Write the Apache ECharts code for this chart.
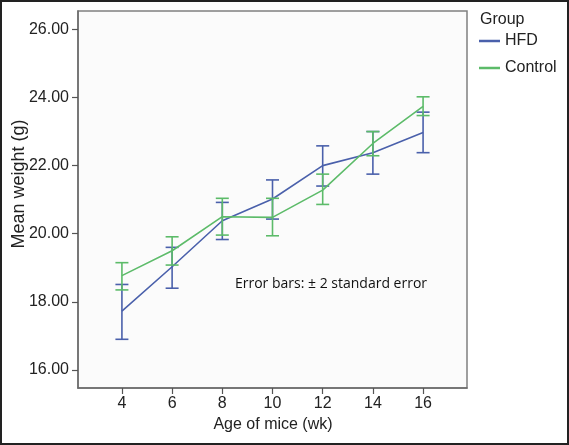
<!DOCTYPE html>
<html><head><meta charset="utf-8">
<script src="https://cdn.jsdelivr.net/npm/echarts@6/dist/echarts.min.js"></script>
<style>html,body{margin:0;padding:0;background:#fff}#c{width:569px;height:445px}</style>
</head><body><div id="c"></div>
<script>
const ages = [4, 6, 8, 10, 12, 14, 16];
const xTicks = [4, 6, 8, 10, 12, 14, 16];
const yTicks = [16, 18, 20, 22, 24, 26];
const hfdMean  = [17.73, 19.03, 20.38, 21.02, 22.00, 22.38, 22.97];
const hfdLower = [16.90, 18.40, 19.83, 20.43, 21.40, 21.75, 22.38];
const hfdUpper = [18.51, 19.60, 20.92, 21.58, 22.58, 23.00, 23.57];
const ctrlMean  = [18.77, 19.50, 20.50, 20.48, 21.28, 22.65, 23.74];
const ctrlLower = [18.35, 19.08, 19.96, 19.94, 20.86, 22.29, 23.47];
const ctrlUpper = [19.15, 19.91, 21.04, 21.04, 21.75, 23.00, 24.02];
const seriesNames = ['HFD', 'Control'];
const colors = ['#4a60ab', '#5cbb69'];
const FONT = 'Liberation Sans, Arial, sans-serif';

function errSeries(name, lower, upper, color) {
  return {
    type: 'custom', name: name + ' err', z: 3,
    data: ages.map((a, i) => [a, lower[i], upper[i]]),
    encode: { x: 0, y: [1, 2] },
    renderItem: function (params, api) {
      const x = api.value(0);
      const lo = api.coord([x, api.value(1)]);
      const hi = api.coord([x, api.value(2)]);
      const h = 6.5;
      const st = { stroke: color, lineWidth: 1.6 };
      return { type: 'group', children: [
        { type: 'line', shape: { x1: lo[0], y1: lo[1], x2: hi[0], y2: hi[1] }, style: st },
        { type: 'line', shape: { x1: lo[0] - h, y1: lo[1], x2: lo[0] + h, y2: lo[1] }, style: st },
        { type: 'line', shape: { x1: hi[0] - h, y1: hi[1], x2: hi[0] + h, y2: hi[1] }, style: st }
      ]};
    }
  };
}

const chart = echarts.init(document.getElementById('c'), null, { renderer: 'canvas' });
chart.setOption({
  animation: false,
  backgroundColor: '#fff',
  grid: { left: 78, top: 11, right: 102, bottom: 57, show: true, backgroundColor: '#fbfbfb', borderColor: '#808080', borderWidth: 1.5 },
  xAxis: {
    type: 'value', min: 2.25, max: 17.75,
    axisLine: { show: true, lineStyle: { color: '#6a6a6a', width: 1.5 } },
    axisTick: { show: true, length: 6, customValues: xTicks, lineStyle: { color: '#555', width: 1.2 } },
    axisLabel: { customValues: xTicks, margin: 8, color: '#222', fontFamily: FONT, fontSize: 16 },
    splitLine: { show: false }
  },
  yAxis: {
    type: 'value', min: 15.47, max: 26.54,
    axisLine: { show: true, lineStyle: { color: '#6a6a6a', width: 1.5 } },
    axisTick: { show: true, length: 6, customValues: yTicks, lineStyle: { color: '#555', width: 1.2 } },
    axisLabel: { customValues: yTicks, margin: 9, color: '#222', fontFamily: FONT, fontSize: 16,
      formatter: v => Number(v).toFixed(2) },
    splitLine: { show: false }
  },
  legend: {
    data: seriesNames, orient: 'vertical', left: 479, top: 32, padding: 0,
    icon: 'rect', itemWidth: 21, itemHeight: 2.5, itemGap: 9, textGap: 2,
    textStyle: { fontFamily: FONT, fontSize: 16, color: '#222', lineHeight: 18 }
  },
  series: [
    { type: 'line', name: seriesNames[0], data: ages.map((a, i) => [a, hfdMean[i]]), showSymbol: false,
      lineStyle: { color: colors[0], width: 1.6 }, itemStyle: { color: colors[0] }, z: 2 },
    { type: 'line', name: seriesNames[1], data: ages.map((a, i) => [a, ctrlMean[i]]), showSymbol: false,
      lineStyle: { color: colors[1], width: 1.6 }, itemStyle: { color: colors[1] }, z: 4 },
    errSeries('HFD', hfdLower, hfdUpper, colors[0]),
    Object.assign(errSeries('Control', ctrlLower, ctrlUpper, colors[1]), { z: 5 })
  ],
  graphic: [
    { type: 'rect', shape: { x: 1, y: 1, width: 567, height: 443 }, style: { fill: 'none', stroke: '#222', lineWidth: 2 }, z: 100 },
    { type: 'text', left: 480, top: 12, style: { text: 'Group', font: '16px ' + FONT, fill: '#222' } },
    { type: 'text', x: 331, y: 284, style: { text: 'Error bars: ± 2 standard error', font: '14px "Open Sans", sans-serif', fill: '#111', align: 'center', verticalAlign: 'middle' }, z: 10 },
    { type: 'text', x: 273, y: 425, style: { text: 'Age of mice (wk)', font: '16px ' + FONT, fill: '#222', align: 'center', verticalAlign: 'middle' } },
    { type: 'text', x: 19, y: 184, rotation: Math.PI / 2, style: { text: 'Mean weight (g)', font: '18px ' + FONT, fill: '#222', align: 'center', verticalAlign: 'middle' } }
  ]
});
</script></body></html>
